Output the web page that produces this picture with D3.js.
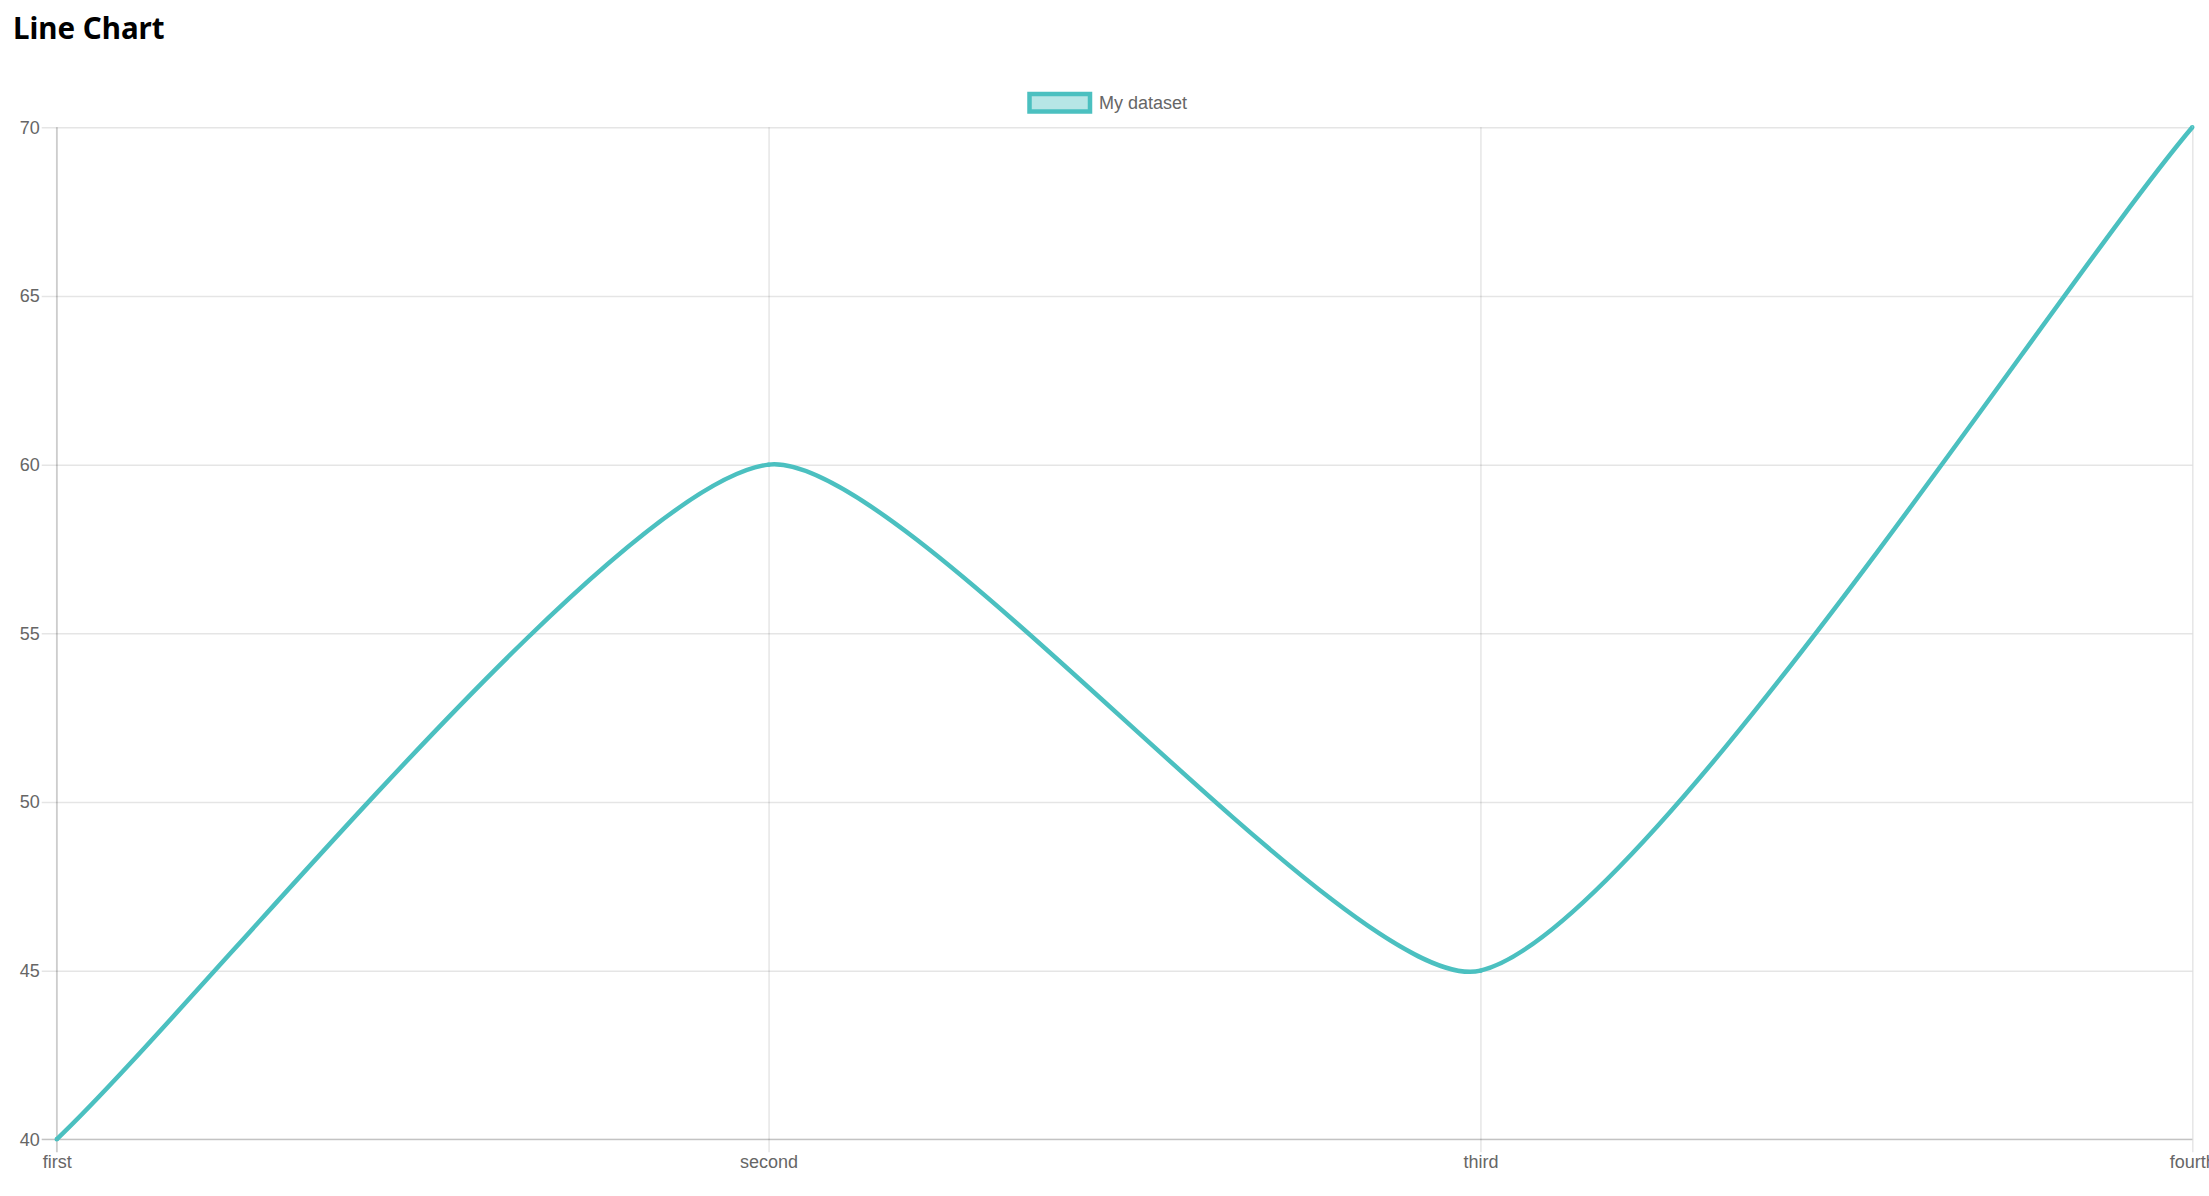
<!DOCTYPE html>
<html>
<head>
<meta charset="utf-8">
<script src="https://cdn.jsdelivr.net/npm/d3@7"></script>
<style>
html,body{margin:0;padding:0;background:#fff;overflow:hidden;}
svg{display:block;}
</style>
</head>
<body>
<svg id="chart" width="2209" height="1196"></svg>
<script>
const titleText = "Line Chart";
const seriesName = "My dataset";
const categories = ["first", "second", "third", "fourth"];
const values = [40, 60, 45, 70];
const yTicks = [40, 45, 50, 55, 60, 65, 70];

const W = 2209, H = 1196;
const margin = {left: 56.7, right: 2209 - 2192.3, top: 127.3, bottom: 1196 - 1139.3};
const svg = d3.select("#chart");

const x = d3.scalePoint().domain(categories).range([margin.left, W - margin.right]);
const y = d3.scaleLinear().domain([40, 70]).range([H - margin.bottom, margin.top]);

const grid = "rgba(0,0,0,0.1)";
const tickFont = "'Liberation Sans', Arial, sans-serif";

svg.append("text").attr("x", 13).attr("y", 39)
  .attr("font-family", "'Noto Sans', sans-serif")
  .attr("font-weight", "bold").attr("font-size", 29.5).attr("fill", "#000")
  .text(titleText);

const yAxis = d3.axisLeft(y).tickValues(yTicks).tickSize(-(W - margin.right - margin.left)).tickPadding(0);
const gy = svg.append("g").attr("transform", `translate(${margin.left},0)`).call(yAxis);
gy.select(".domain").remove();
gy.selectAll(".tick line").attr("stroke", grid).attr("stroke-width", 1.5).attr("x1", -15);
gy.selectAll(".tick text").attr("x", -17).attr("dy", "0.32em")
  .attr("font-family", tickFont).attr("font-size", 18).attr("fill", "#666");

const xAxis = d3.axisBottom(x).tickSize(-(H - margin.bottom - margin.top)).tickPadding(0);
const gx = svg.append("g").attr("transform", `translate(0,${H - margin.bottom})`).call(xAxis);
gx.select(".domain").remove();
gx.selectAll(".tick line").attr("stroke", grid).attr("stroke-width", 1.5).attr("y1", 13);
gx.selectAll(".tick text").attr("y", 29).attr("dy", 0)
  .attr("font-family", tickFont).attr("font-size", 18).attr("fill", "#666");

svg.append("line").attr("x1", margin.left).attr("x2", margin.left)
  .attr("y1", margin.top).attr("y2", H - margin.bottom + 13)
  .attr("stroke", "rgba(0,0,0,0.15)").attr("stroke-width", 1.5);
svg.append("line").attr("x1", margin.left - 15).attr("x2", W - margin.right)
  .attr("y1", H - margin.bottom).attr("y2", H - margin.bottom)
  .attr("stroke", "rgba(0,0,0,0.15)").attr("stroke-width", 1.5);

// Chart.js-style spline through the points, computed in pixel space from the scales
function splinePath(vals, tension) {
  const pts = vals.map((v, i) => [x(categories[i]), y(v)]);
  const n = pts.length;
  const cp = pts.map((p, i) => {
    const prev = pts[Math.max(0, i - 1)], next = pts[Math.min(n - 1, i + 1)];
    const d01 = Math.hypot(p[0] - prev[0], p[1] - prev[1]);
    const d12 = Math.hypot(next[0] - p[0], next[1] - p[1]);
    let s01 = d01 / (d01 + d12), s12 = d12 / (d01 + d12);
    if (isNaN(s01)) s01 = 0; if (isNaN(s12)) s12 = 0;
    const fa = tension * s01, fb = tension * s12;
    return {
      prev: [p[0] - fa * (next[0] - prev[0]), p[1] - fa * (next[1] - prev[1])],
      next: [p[0] + fb * (next[0] - prev[0]), p[1] + fb * (next[1] - prev[1])]
    };
  });
  const path = d3.path();
  path.moveTo(pts[0][0], pts[0][1]);
  for (let i = 1; i < n; i++) {
    path.bezierCurveTo(cp[i - 1].next[0], cp[i - 1].next[1], cp[i].prev[0], cp[i].prev[1], pts[i][0], pts[i][1]);
  }
  return path.toString();
}

svg.append("path").attr("d", splinePath(values, 0.2))
  .attr("fill", "none").attr("stroke", "rgb(75,192,192)").attr("stroke-width", 4.5)
  .attr("stroke-linejoin", "round");

svg.selectAll(".pt").data(values).join("circle").attr("class", "pt")
  .attr("cx", (d, i) => x(categories[i])).attr("cy", d => y(d)).attr("r", 1.5)
  .attr("fill", "rgba(75,192,192,0.4)").attr("stroke", "rgb(75,192,192)").attr("stroke-width", 1.5);

const lg = svg.append("g");
lg.append("rect").attr("x", 1029.5).attr("y", 94).attr("width", 60.5).attr("height", 17.5)
  .attr("fill", "rgba(75,192,192,0.4)").attr("stroke", "rgb(75,192,192)").attr("stroke-width", 4.5);
lg.append("text").attr("x", 1099).attr("y", 108.5)
  .attr("font-family", tickFont).attr("font-size", 18).attr("fill", "#666")
  .text(seriesName);
</script>
</body>
</html>
